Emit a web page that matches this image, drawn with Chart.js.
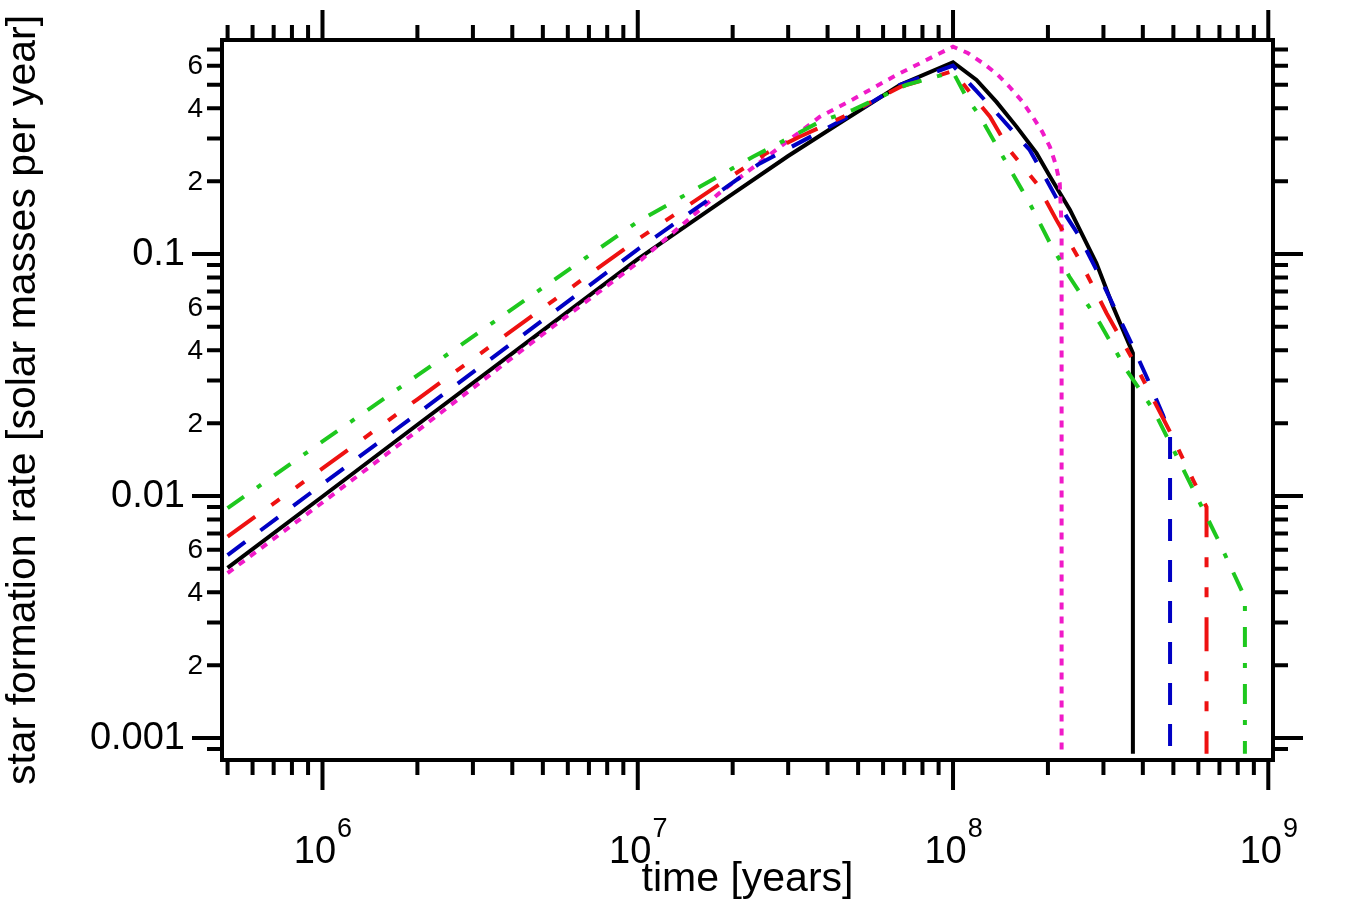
<!DOCTYPE html>
<html>
<head>
<meta charset="utf-8">
<script src="https://cdn.jsdelivr.net/npm/chart.js@4.4.0/dist/chart.umd.min.js"></script>
<style>
    html, body { margin: 0; padding: 0; background: #fff; }
</style>
</head>
<body>
<canvas id="sfrChart" width="1364" height="909"></canvas>
<script>
// Axis ranges and labelled ticks
const timeRange = [4.8e5, 1.035e9];
const sfrRange = [8.11e-4, 0.766];
const timeMajorTicks = [1e6, 1e7, 1e8, 1e9];
const timeMajorExponents = ["6", "7", "8", "9"];
const sfrMajorTicks = [0.001, 0.01, 0.1];
const sfrMajorLabels = ["0.001", "0.01", "0.1"];
const sfrMinorLabelled = [2, 4, 6];

// Black solid
const timeBlack = [5e5, 1e6, 2e6, 5e6, 1e7, 2e7, 3e7, 4.5e7, 6.8e7, 1e8, 1.187e8, 1.373e8, 1.59e8, 1.84e8, 2.03e8, 2.35e8, 2.85e8, 3.03e8, 3.22e8, 3.46e8, 3.72e8, 3.72e8];
const sfrBlack = [0.00505, 0.00995, 0.0197, 0.0483, 0.0953, 0.177, 0.254, 0.356, 0.50, 0.62, 0.524, 0.425, 0.336, 0.261, 0.209, 0.152, 0.0915, 0.0745, 0.0605, 0.0485, 0.0389, 0.00086];

// Magenta dotted
const timeMagenta = [5e5, 1e6, 2e6, 5e6, 1e7, 1.81e7, 2.6e7, 3.78e7, 4.82e7, 6.6e7, 1e8, 1.113e8, 1.245e8, 1.376e8, 1.51e8, 1.652e8, 1.79e8, 1.913e8, 2.03e8, 2.12e8, 2.18e8, 2.21e8, 2.21e8];
const sfrMagenta = [0.0048, 0.0094, 0.0186, 0.0466, 0.092, 0.178, 0.255, 0.369, 0.436, 0.548, 0.719, 0.677, 0.614, 0.555, 0.491, 0.429, 0.369, 0.322, 0.277, 0.233, 0.196, 0.13, 0.00086];

// Blue dashed
const timeBlue = [5e5, 1e6, 2e6, 5e6, 1e7, 2e7, 2.43e7, 4.5e7, 6.8e7, 1e8, 1.18e8, 1.41e8, 1.75e8, 1.93e8, 2.29e8, 2.52e8, 2.85e8, 3.72e8, 4.11e8, 4.64e8, 4.88e8, 4.88e8];
const sfrBlue = [0.0057, 0.0112, 0.0219, 0.0533, 0.1045, 0.197, 0.236, 0.36, 0.50, 0.60, 0.475, 0.369, 0.269, 0.215, 0.143, 0.118, 0.086, 0.0414, 0.0311, 0.0215, 0.0178, 0.00086];

// Red long dash - short - short
const timeRed = [5e5, 1e6, 2e6, 5e6, 1e7, 2e7, 2.56e7, 3.26e7, 4.5e7, 6.8e7, 1e8, 1.16e8, 1.31e8, 1.51e8, 1.84e8, 2.13e8, 2.52e8, 3.07e8, 3.72e8, 4.88e8, 5.78e8, 6.37e8, 6.37e8];
const sfrRed = [0.0068, 0.013, 0.0251, 0.0597, 0.115, 0.211, 0.261, 0.305, 0.37, 0.49, 0.57, 0.447, 0.369, 0.269, 0.196, 0.138, 0.0945, 0.0569, 0.0365, 0.0184, 0.0116, 0.0090, 0.00086];

// Green dash-dot
const timeGreen = [5e5, 1e6, 2e6, 5e6, 1e7, 2e7, 2.32e7, 3.78e7, 4.82e7, 7.11e7, 1e8, 1.1e8, 1.22e8, 1.44e8, 1.75e8, 2.03e8, 2.34e8, 2.92e8, 3.55e8, 4.32e8, 5.25e8, 6.85e8, 8.32e8, 8.43e8, 8.43e8];
const sfrGreen = [0.0089, 0.0168, 0.0315, 0.0726, 0.136, 0.226, 0.252, 0.352, 0.394, 0.50, 0.565, 0.447, 0.369, 0.252, 0.162, 0.111, 0.0805, 0.0518, 0.0332, 0.0227, 0.0137, 0.0068, 0.00395, 0.0038, 0.00086];

const FONT = '"Liberation Sans", Arial, sans-serif';

function toPoints(times, values) {
    return times.map((t, i) => ({ x: t, y: values[i] }));
}

// every 1..9 x 10^n value inside a range
function logTicks(min, max) {
    const out = [];
    for (let d = Math.floor(Math.log10(min)); d <= Math.ceil(Math.log10(max)); d++) {
        for (let m = 1; m <= 9; m++) {
            const v = m * Math.pow(10, d);
            if (v >= min * 0.999 && v <= max) out.push({ v, m });
        }
    }
    return out;
}

// Frame, outward ticks, tick labels and axis titles
const axisDecor = {
    id: "axisDecor",
    afterDraw(chart) {
        const { ctx, chartArea: a, scales: { x, y } } = chart;
        ctx.save();
        ctx.strokeStyle = "#000";
        ctx.fillStyle = "#000";
        ctx.lineWidth = 4;
        ctx.strokeRect(a.left, a.top, a.right - a.left, a.bottom - a.top);

        ctx.lineCap = "butt";
        logTicks(timeRange[0], timeRange[1]).forEach(({ v, m }) => {
            const px = x.getPixelForValue(v);
            const len = m === 1 ? 30 : 15;
            ctx.beginPath();
            ctx.moveTo(px, a.bottom); ctx.lineTo(px, a.bottom + len);
            ctx.moveTo(px, a.top); ctx.lineTo(px, a.top - len);
            ctx.stroke();
        });
        logTicks(sfrRange[0], sfrRange[1]).forEach(({ v, m }) => {
            const py = y.getPixelForValue(v);
            const len = m === 1 ? 30 : 15;
            ctx.beginPath();
            ctx.moveTo(a.left, py); ctx.lineTo(a.left - len, py);
            ctx.moveTo(a.right, py); ctx.lineTo(a.right + len, py);
            ctx.stroke();
            if (m !== 1 && sfrMinorLabelled.includes(m)) {
                ctx.font = "28px " + FONT;
                ctx.textAlign = "right";
                ctx.textBaseline = "middle";
                ctx.fillText(String(m), a.left - 19, py + 1);
            }
        });

        // major y labels
        ctx.font = "38px " + FONT;
        ctx.textAlign = "right";
        ctx.textBaseline = "middle";
        sfrMajorTicks.forEach((v, i) => {
            ctx.fillText(sfrMajorLabels[i], a.left - 37, y.getPixelForValue(v) + 1);
        });

        // major x labels as 10 with superscript exponent
        ctx.textBaseline = "alphabetic";
        ctx.textAlign = "left";
        timeMajorTicks.forEach((v, i) => {
            const px = x.getPixelForValue(v);
            ctx.font = "38px " + FONT;
            const w1 = ctx.measureText("10").width;
            ctx.font = "27px " + FONT;
            const w2 = ctx.measureText(timeMajorExponents[i]).width;
            const start = px - (w1 + w2) / 2;
            ctx.font = "38px " + FONT;
            ctx.fillText("10", start, 863);
            ctx.font = "27px " + FONT;
            ctx.fillText(timeMajorExponents[i], start + w1 + 1, 837);
        });

        // axis titles
        ctx.font = "41px " + FONT;
        ctx.textAlign = "center";
        ctx.fillText("time [years]", (a.left + a.right) / 2, 891);
        ctx.translate(35, (a.top + a.bottom) / 2);
        ctx.rotate(-Math.PI / 2);
        ctx.fillText("star formation rate [solar masses per year]", 0, 0);
        ctx.restore();
    }
};

const lineStyle = { pointRadius: 0, borderWidth: 4, tension: 0, fill: false, borderCapStyle: "butt" };

new Chart(document.getElementById("sfrChart").getContext("2d"), {
    type: "line",
    data: {
        datasets: [
            { ...lineStyle, label: "green", data: toPoints(timeGreen, sfrGreen), borderColor: "#1ec81e", borderDash: [20, 16, 5, 16] },
            { ...lineStyle, label: "red", data: toPoints(timeRed, sfrRed), borderColor: "#ee1111", borderDash: [34, 20, 10, 20, 10, 20] },
            { ...lineStyle, label: "blue", data: toPoints(timeBlue, sfrBlue), borderColor: "#0000c4", borderDash: [22, 19] },
            { ...lineStyle, label: "magenta", data: toPoints(timeMagenta, sfrMagenta), borderColor: "#f01ac8", borderDash: [7, 7] },
            { ...lineStyle, label: "black", data: toPoints(timeBlack, sfrBlack), borderColor: "#000000" },
        ],
    },
    options: {
        responsive: false,
        animation: false,
        devicePixelRatio: 1,
        layout: { padding: { left: 222, right: 91, top: 40, bottom: 149 } },
        plugins: { legend: { display: false }, tooltip: { enabled: false } },
        scales: {
            x: { type: "logarithmic", display: false, min: timeRange[0], max: timeRange[1] },
            y: { type: "logarithmic", display: false, min: sfrRange[0], max: sfrRange[1] },
        },
    },
    plugins: [axisDecor],
});
</script>
</body>
</html>
